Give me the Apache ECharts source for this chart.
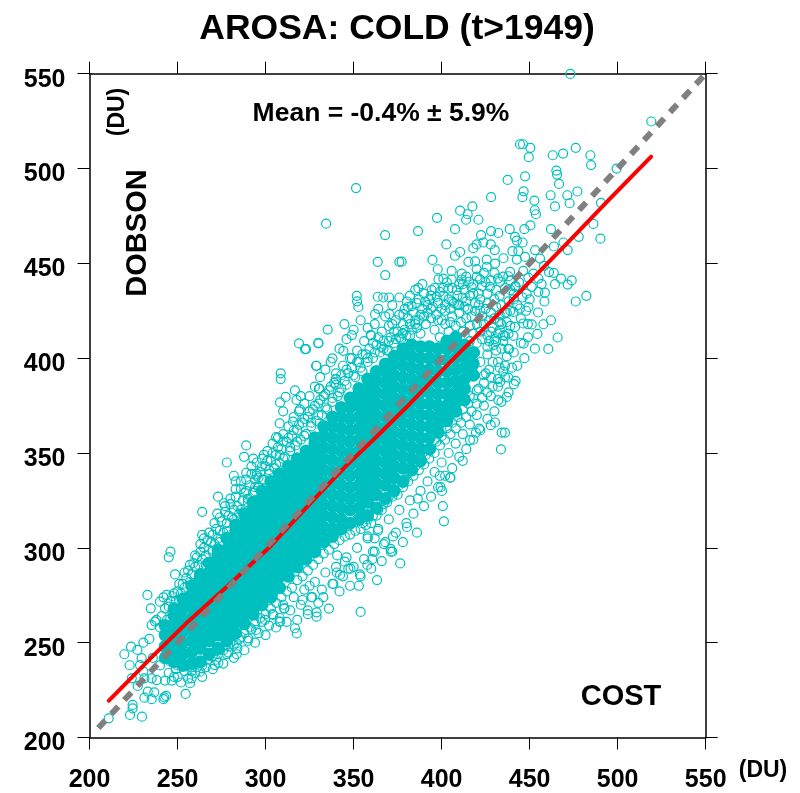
<!DOCTYPE html>
<html><head><meta charset="utf-8">
<script src="https://cdn.jsdelivr.net/npm/echarts@6/dist/echarts.min.js"></script>
<style>html,body{margin:0;padding:0;background:#fff}#c{width:800px;height:793px}</style></head>
<body><div id="c"></div>
<script>
const tickValues = [200,250,300,350,400,450,500,550];
const titleText = 'AROSA: COLD (t>1949)';
const meanText = 'Mean = -0.4% \u00B1 5.9%';

// Isolated circles: [COST, DOBSON]
const outlierPoints = [
[473.1,549.9],[519.1,524.8],[444.5,512.8],[446.2,512.8],[450.4,510.9],[449.5,506],[463.1,507],[469,507.9],[476.2,510.9],[484.5,507],[484.9,501.8],[499.4,500],
[465.2,498.9],[465.6,496.8],[447.4,495.9],[437.5,494],[466.7,491.9],[446.6,488],[445.9,484.9],[428.1,484.9],[461.9,485.9],[471.4,485.9],[477.1,487.9],[452.7,483.1],[472.7,481.7],[490.5,481.9],
[464.4,480],[417.5,480],[410.5,477.8],[414.8,475.9],[452.9,478],[453.6,475.9],[413.9,473],[420.9,473],[397.4,474],[450.4,470],[486.2,470.8],[438.7,468],[447,468],[462.1,468],[407.6,468],[386.6,467],[428.1,467],[432.2,466],
[477.9,464],[490.2,463],[422.4,464.9],[441.7,464],[442.7,462],[446,461],[402.7,460],[469.2,461],[463.8,458.9],[419.9,460],[418,458],[423.7,461],[427.9,460],[430.2,457],[471.6,457],[453.1,457],[410.5,456],[407.6,454],[440.2,456.4],[443.6,456.4],[447.4,453.4],[394.8,451.8],[377.3,450.9],[415.2,450.8],[419,451],[425.6,452],[435.1,452.7],[442.7,452],[455.9,452.5],
[397.8,446.9],[405.7,446],[411.4,444.6],[419.9,447],[425.6,448.2],[430.4,449.9],[438.9,445.5],[446.4,446],[458.2,448.7],[461,445.4],[463.7,445],[452.1,444.6],
[398.2,441.6],[401,442],[405.7,441.5],[411.4,441.5],[415.6,440.3],[421.8,441.6],[433.2,440.3],[437.9,443.2],[449.3,442.5],[455,442],[467.8,442],[473.9,441],[471.6,438.8],[464.4,439],[456.8,439],
[386.8,436.9],[389.1,439],[394.4,435.9],[403.9,436.7],[408.6,435.9],[417.1,437.3],[427.5,437.6],[441.7,437.6],[451.2,437.6],[482.2,432.9],[476.2,429.9],[458.4,429.9],[458.7,434.6],[455,435],[448.3,434],
[380.2,429.9],[383,427.4],[390.6,429.9],[397.2,432.3],[402,428],[449.3,427],[444.5,426.2],[454.8,424.1],[440.8,424.4],[462.1,420],[457.8,417.9],[446.4,418.3],[451.2,417.8],[441.7,416.5],[454.4,412.8],[465.9,410.9],[440.8,411.8],[436,411.8],[446.6,407.7],[460.6,404.9],[437.9,404.9],[429.4,406.9],
[351.4,489.7],[334.4,470.9],[367.9,464.9],[363.7,450.8],[376,450.8],[368,443.8],[351.8,432.9],[352,430],[363.7,432.4],[366.8,432],[370.2,432],
[210.9,210.1],[223,211.9],[229.8,211],[224.5,217.2],[224.5,215.4],[231.2,221],[236.8,223.8],[233.1,224.2],[235.3,220.2],[242,220.2],[243.5,221.9],[242.5,221.2],[254.6,223],
[219.8,243.9],[223.6,247.9],[227.2,246.2],[222.8,238.1],[230.6,250],[234,252],[224,231.2],[227.4,227.2],[231.2,231.2],[235.3,231.2],[238.2,230.3],[242.9,230],[246.7,230],[250.1,232],[257.1,228.6],[258,231.2],[229.6,241.8],[228.7,238.2],[230.6,234.7],
[234.8,268.1],[232.9,275.2],[248.6,286],[240,271.6],[242,273.9],[243.8,275.2],[246.9,274.6],[242.9,268.1],[235.3,259.3],[237.2,261.1],
[283.6,243.9],[278.9,244.8],[273.2,239.5],[271.3,238.2],[262.8,234.7],[308.2,261.1],[310.7,268.1],[304.4,264.6],[299.7,262],[294.6,256.7],[290.2,252.3],[283.6,249.7],[316.7,257.6],[317.7,254.9],
[354,266.2],[353,280],[363.3,283],[353.6,286],[376.5,291.8],[357.8,291],[348.3,289],[345,292.7],[360.6,294],[371.2,298],[371,299.5],[361,298],[367.2,302],[372.4,306],[380.3,311],[401.3,314],[400.7,322],[386.5,326],[400.2,330],[399.4,332],[405,337],[399,338],[363.8,309],[358,306],[362,305],
[329,266],[329,263.7],[324,267],[342.3,285.7],[308,261],[310.6,268],[321,272.5],[326.5,274],[332.8,274],[325,280],[338.5,281],[340.4,287],[347,289],[340.7,296],
[335.3,415.1],[330,408.1],[322.4,404.8],[338,399.9],[344.2,403.9],[328.7,396],[330.6,384],[339.9,389],[344.8,418],[349,412.2],[359.7,412.2],[362.2,423.2],[370.3,423.2],[378.3,423.2],[352.7,427],
[433.7,351.9],[434.1,360.8],[436,360.8],[430.3,366.1],[427.9,364.7],[421.4,362.9],[419.5,360.8],[416.1,356.8],[412,345.9],[404.8,337],
[441.1,386.3],[437,379.6],[432.2,377.9],[437.9,389.8],[438.3,404.8],[433.2,387.5],
[308.6,392],[308.6,389],[329,396],[319,407.8],[323,404.8],[330,407.8],[340,389],[330.3,384],[316.7,383],[320,380],[311.4,379.6],[308.2,376.7],[317.6,378],[310,372],[319.5,373],[308,365.6],[306,358.4],[315.6,366.5],[293,347],[299,349],[308,349],[295,338],[296,337],[294,332],
[278,345],[264,319],[273,327],[282,338],[283,335],[289,339.6],[289,354],[287.8,348],[246,298],[245,295],[264,306.8],[272.6,318],[276.4,323.5]
];

// Circles along the edges of the cloud, estimated: [COST, DOBSON]
const upperEdgePoints = [
[238,262],[240,258],[241,264],[244,262],[245,269],[247,266],[249,272],[250,277],[252,276],[253,281],[254,279],[255,284],[256,288],[257,282],[258,286],[259,292],[260,290],[261,295],[262,291],[263,298],[264,294],[265,300],[266,296],[267,304],[268,299],[269,303],[270,307],[271,302],[272,310],[273,305],[274,309],[275,314],[276,308],[277,319],[278,313],[279,317],[280,323],[281,316],[282,320],[283,327],[284,322],[285,318],[286,331],[287,325],[288,329],[289,336],[290,326],[291,333],[292,339],[293,329],[294,336],[295,345],[296,332],[297,340],[298,347],[299,336],[300,343],[301,351],[302,339],[303,346],[304,355],[305,342],[306,349],[307,358],[308,345],[309,352],[310,360],[311,348],[312,356],[313,364],[314,351],[315,359],[316,369],[317,354],[318,362],[319,372],[320,357],[321,366],[322,376],[323,360],[324,369],[325,380],[326,364],[327,373],[328,385],[329,367],[330,376],[331,390],[332,370],[333,380],[334,394],[335,373],[336,383],[337,398],[338,377],[339,387],[340,392],[341,380],[342,405],[343,384],[344,396],[345,388],[346,410],[347,392],[348,400],[349,395],[350,415],[351,390],[352,404],[353,398],[354,420],[355,393],[356,409],[357,402],[358,416],[359,405],[360,412],[361,400],[362,418],[363,407],[364,426],[365,403],[366,414],[367,409],[368,422],[369,404],[370,417],[371,411],[372,428],[373,408],[374,420],[375,414],[376,432],
[377,410],[378,418],[379,426],[380,412],[381,421],[382,433],[383,415],[384,424],[385,418],[386,429],[387,420],[388,413],[389,426],[390,434],[391,418],[392,424],[393,431],[394,421],[395,427],[396,437],[397,423],[398,429],[399,435],[400,426],[401,433],[403,440],[404,431],[406,437],[407,429],[409,433],[410,439],[412,432],[413,436],[414,443],[416,433],[418,439],[420,443],[421,434],[423,438],[424,445],[426,434],[428,441],[430,445],[431,436],[433,433],[435,443],[436,437],[438,430],[439,441],[441,434],[443,428],[444,440],[446,432],[448,425],[450,431],
[246,272],[248,276],[251,281],[254,287],[257,291],[260,296],[263,302],[265,305],[268,308],[271,313],[274,316],[277,322],[280,326],[283,331],[286,335],[289,330],[292,343],[295,339],[298,343],[301,346],[304,350],[307,353],[310,356],[313,358],[316,362],[319,365],[322,368],[325,372],[328,375],[331,378],[334,381],[337,385],[340,386],[343,391],[346,394],[349,400],[352,398],[355,402],[358,398],[361,408],[364,411],[367,405],[370,409],[373,414],[376,411],[379,415],[382,418],[385,420],[388,423],
[262,285],[266,291],[270,298],[274,303],[278,309],[282,315],[286,320],[290,324],[294,330],[298,336],[302,341],[306,344],[310,347],[314,353],[318,356],[322,359],[326,366],[330,370],[334,374],[338,379],[342,382],[346,386],[350,391],[354,395],[358,400],[362,403],[366,406],[370,404],[374,410],[378,413],[382,412],[386,416],[390,422],[394,426],[398,420],[402,425],[406,430],[410,428],[414,430],[418,434],[422,431],[426,429],[430,431],[434,428],[385,436],[392,428],[376,423],[372,418],[381,427],[387,431],[394,433],[401,437],[405,426],[412,439],[419,429],[425,440],[432,442],[439,436],[442,438],
[396,415],[399,411],[402,418],[404,414],[406,422],[408,417],[410,424],[411,419],[412,414],[414,421],[415,426],[416,417],[417,422],[418,413],[419,425],[420,418],[421,428],[422,414],[423,422],[424,418],[425,426],[426,412],[427,420],[428,424],[429,416],[430,421],[431,427],[432,413],[433,423],[434,418],[435,409],[436,424],[420,408],[423,410],[426,406],[428,414],[431,409],[419,403],[416,409],[433,415],[437,419],[438,413],[439,425],[422,425],[409,428],[413,427],[405,419],[400,420]
];
const lowerEdgePoints = [
[245,234],[248,232],[250,238],[252,229],[254,235],[256,231],[258,237],[260,234],[262,240],[264,232],[266,237],[268,243],[270,236],[272,241],[274,246],[276,239],[278,244],[280,250],[282,242],[284,247],[286,253],[288,246],[290,251],[292,257],[294,250],[296,255],[298,261],[300,254],[302,259],[304,265],[306,258],[308,263],[310,270],[312,261],[314,267],[316,274],[318,262],[320,270],[322,278],[324,265],[326,274],[328,282],[330,271],[332,278],[334,287],[336,268],[338,281],[340,290],[342,277],[344,285],[346,295],[348,280],[350,290],[352,300],[354,285],[356,294],[358,305],[360,289],[362,298],[364,310],[366,293],[368,303],[370,315],[372,298],[374,308],[376,320],[378,303],[380,313],[382,325],[384,318],[386,308],[388,330],[390,322],[392,335],[394,327],[396,340],[398,332],[400,345],[402,338],[404,350],[406,342],[408,355],[410,348],[412,360],[414,352],[416,365],[418,357],[420,370],[422,362],[424,375],[426,368],[428,380],[430,372],[432,385],[434,377],[436,390],[438,382],[440,395],[442,388],
[425,392],[429,398],[433,395],[437,401],[441,403],[443,396],[447,400],[445,408],[449,411],[453,405],[435,412],[439,417],[431,404],[427,409],[433,419],[437,424],[441,431],[445,421],[449,418],
[236,242],[240,238],[243,243],[246,240],[249,236],[252,240],[255,238],[258,235],[261,237],[264,238],[267,241],[270,243],[273,244],[276,246],[279,248],[282,249],[285,252],[288,255],[291,258],[294,260],[297,263],[300,265],[303,268],[306,271],[309,274],[312,277],[315,279],[318,283],[321,285],[324,288],[327,291],[330,294],[333,297],[336,299],[339,302],[342,304],[345,306],[348,307],[351,309],[354,310],[357,312],[360,313],[363,317],[366,320],[369,324],[372,327],[375,328],[378,332],[381,335],[384,338],[387,341],[390,344],[393,347],[396,350],[399,354],[402,357],[405,360],[408,363],[411,366],[414,369],[417,372],[420,376],[423,379],[426,382],[429,385],[432,389],[435,393],
[404,370],[408,375],[412,378],[416,380],[420,383],[424,387],[428,390],[432,398],[436,396],[418,392],[422,398],[426,402],[430,410],[434,405],[400,362],[396,357],[392,352],[388,348],[384,344],
[355,313],[358,315],[361,317],[364,320],[367,323],[370,327],[373,331],[376,333],[379,336],[382,340],[385,343],[388,345],[391,349],[394,352],[397,356],[400,359],[403,363],[406,366],[409,369],[412,373],[415,376],[418,379],[421,384],[424,391],[427,394]
];

// Saturated part of the cloud, where single circles cannot be told apart:
// one [COST, [DOBSON...]] column per row of estimated positions.
const solidColumns = [
[243,[242,248,254,259]],
[248,[240,246,252,258,264,268]],
[253,[238,244,250,256,262,268,273]],
[258,[239,245,251,257,263,269,275,280]],
[263,[240,247,253,259,265,271,277,283,286]],
[268,[244,251,257,263,269,275,281,287,292]],
[273,[247,254,260,266,272,278,284,290,296,299]],
[278,[251,257,263,269,275,281,287,293,299,305]],
[283,[255,261,267,273,279,285,291,297,303,309,312]],
[288,[260,265,271,277,283,289,295,301,307,313,318]],
[293,[265,268,274,280,286,292,298,304,310,316,321,324]],
[298,[270,272,278,284,290,296,302,308,314,320,326,330]],
[303,[274,276,282,288,294,300,306,312,318,324,330,335]],
[308,[279,285,291,297,303,309,315,321,327,333,339]],
[313,[285,289,295,301,307,313,319,325,331,337,343]],
[318,[290,293,299,305,311,317,323,329,335,341,347]],
[323,[294,297,303,309,315,321,327,333,339,345,351]],
[328,[298,301,307,313,319,325,331,337,343,349,355,358]],
[333,[303,305,311,317,323,329,335,341,347,353,359,364]],
[338,[306,310,316,322,328,334,340,346,352,358,364,369]],
[343,[310,315,321,327,333,339,345,351,357,363,369,374]],
[348,[313,320,326,332,338,344,350,356,362,368,374,379]],
[353,[315,321,327,333,339,345,351,357,363,369,375,381,384]],
[358,[317,324,330,336,342,348,354,360,366,372,378,384,389]],
[363,[321,328,334,340,346,352,358,364,370,376,382,388,393]],
[368,[326,333,339,345,351,357,363,369,375,381,387,393,397]],
[373,[330,337,343,349,355,361,367,373,379,385,391,397,401]],
[378,[335,342,348,354,360,366,372,378,384,390,396,402,405]],
[383,[341,347,353,359,365,371,377,383,389,395,401,407]],
[388,[346,352,358,364,370,376,382,388,394,400,406]],
[393,[352,358,364,370,376,382,388,394,400,406]],
[398,[361,365,369,375,381,387,393,399,405]],
[403,[367,371,375,381,387,393,399,405,409]],
[408,[372,377,382,388,394,400,406,411]],
[413,[378,384,389,395,401,407]],
[418,[391,397,403]]
];

const redCost =   [211,234.4,257,278,302.5,327,346,363,382,406,433,458,473,494,519];
const redDobson = [219.4,241.5,262,279.5,300.6,325,343.5,358.6,376,399,424,448,462.2,482.5,506.3];
const identityEnds = [205,550];

const CYAN = '#00BFBF';
const font = '"Liberation Sans", Arial, sans-serif';
const solidPoints = [];
solidColumns.forEach(function(c){ c[1].forEach(function(d){ solidPoints.push([c[0], d]); }); });
const redLine = redCost.map(function(v,i){ return [v, redDobson[i]]; });
const identityLine = identityEnds.map(function(v){ return [v, v]; });

function axis(pos, labelled, isX){
  const labels = {show:labelled,color:'#000',fontFamily:font,fontWeight:'bold',fontSize:25,
      margin:isX?30:24,showMinLabel:true,showMaxLabel:true};
  if(!isX){ labels.verticalAlign='top'; labels.lineHeight=12; }
  return {
    type:'value', position:pos, min:200, max:550, interval:50,
    splitLine:{show:false},
    axisLine:{show:true,onZero:false,lineStyle:{color:'#000',width:1.5}},
    axisTick:{show:true,inside:false,length:12,lineStyle:{color:'#000',width:1}},
    axisLabel:labels
  };
}
function rings(data){
  return {type:'scatter',data:data,symbol:'circle',symbolSize:9,clip:false,animation:false,silent:true,
    itemStyle:{color:'rgba(0,0,0,0)',borderColor:CYAN,borderWidth:1.2,opacity:1}};
}
function label(text,x,y,size,rot){
  return {type:'text',x:x,y:y,rotation:rot?Math.PI/2:0,z:50,
    style:{text:text,font:'bold '+size+'px '+font,fill:'#000',textAlign:'center',textVerticalAlign:'middle'}};
}
const chart = echarts.init(document.getElementById('c'),null,{renderer:'canvas'});
chart.setOption({
  animation:false,
  backgroundColor:'#fff',
  grid:{left:89.5,right:94.3,top:73.7,bottom:55.5,containLabel:false},
  xAxis:[axis('bottom',true,true),axis('top',false,true)],
  yAxis:[axis('left',true,false),axis('right',false,false)],
  series:[
    {type:'scatter',data:solidPoints,symbol:'circle',symbolSize:13,animation:false,silent:true,itemStyle:{color:CYAN,opacity:1}},
    rings(outlierPoints),rings(upperEdgePoints),rings(lowerEdgePoints),
    {type:'line',data:redLine,showSymbol:false,smooth:false,animation:false,silent:true,z:5,clip:false,
      lineStyle:{color:'#FF0000',width:4,cap:'round',opacity:1}},
    {type:'line',data:identityLine,showSymbol:false,animation:false,silent:true,z:6,clip:false,
      lineStyle:{color:'#808080',width:6,type:[10.3,8.8],cap:'butt',opacity:1}}
  ],
  graphic:[
    label(titleText,397,29,35.5,false),
    label(meanText,381,114,26.5,false),
    label('DOBSON',138,233,29,true),
    label('(DU)',118,112,23,true),
    label('COST',621,697,29,false),
    label('(DU)',763,771,23,false)
  ]
});
</script></body></html>
